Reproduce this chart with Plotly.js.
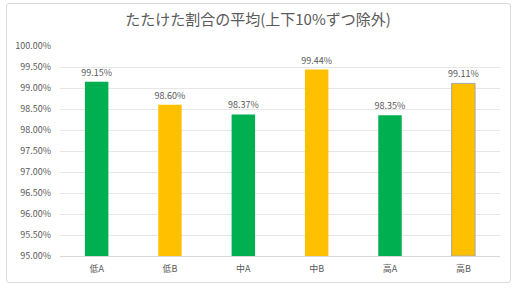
<!DOCTYPE html>
<html>
<head>
<meta charset="utf-8">
<script src="https://cdn.plot.ly/plotly-3.0.1.min.js"></script>
<style>
html,body{margin:0;padding:0;background:#fff;}
#wrap{position:relative;width:516px;height:288px;}
#chart{width:516px;height:288px;}
#frame{position:absolute;left:6px;top:3px;width:505px;height:280px;border:1px solid #d9d9d9;border-radius:3px;pointer-events:none;box-sizing:border-box;}
</style>
</head>
<body>
<div id="wrap"><div id="chart"></div><div id="frame"></div></div>
<script>
const categories = ['低A','低B','中A','中B','高A','高B'];
const values = [99.15, 98.60, 98.37, 99.44, 98.35, 99.11];
const colors = ['#00B050','#FFC000','#00B050','#FFC000','#00B050','#FFC000'];
const lineColors = ['#00B050','#FFC000','#00B050','#FFC000','#00B050','#a6a6a6'];
const yTicks = [95,95.5,96,96.5,97,97.5,98,98.5,99,99.5,100];

const font = 'Noto Sans CJK JP, Noto Sans, sans-serif';
const trace = {
  type:'bar', x:categories,
  y:values.map(v=>v-95),
  base:95,
  marker:{color:colors, line:{color:lineColors, width:[0,0,0,0,0,1]}},
  text:values.map(v=>v.toFixed(2)+'%'),
  textposition:'outside',
  constraintext:'none',
  textfont:{family:font,size:9,color:'#595959'},
  cliponaxis:false,
  hoverinfo:'none'
};

const layout = {
  width:516, height:288,
  margin:{l:60,r:16,t:46,b:32},
  paper_bgcolor:'#fff', plot_bgcolor:'#fff',
  title:{text:'たたけた割合の平均(上下10%ずつ除外)', font:{family:font,size:15,color:'#595959'}, x:0.5, xanchor:'center', y:0.93, yanchor:'middle'},
  bargap:0.68,
  showlegend:false,
  xaxis:{tickfont:{family:font,size:9,color:'#595959'}, showline:true, linecolor:'#d9d9d9', linewidth:1, ticks:'', ticklabelstandoff:4, fixedrange:true},
  yaxis:{range:[95,100], tickvals:yTicks, ticktext:yTicks.map(v=>v.toFixed(2)+'%'),
    tickfont:{family:font,size:9,color:'#595959'}, gridcolor:'#e6e6e6', gridwidth:1, zeroline:false, showline:false, ticks:'', ticklen:0, ticklabelstandoff:8, fixedrange:true}
};
Plotly.newPlot('chart',[trace],layout,{displayModeBar:false,staticPlot:true});
</script>
</body>
</html>
